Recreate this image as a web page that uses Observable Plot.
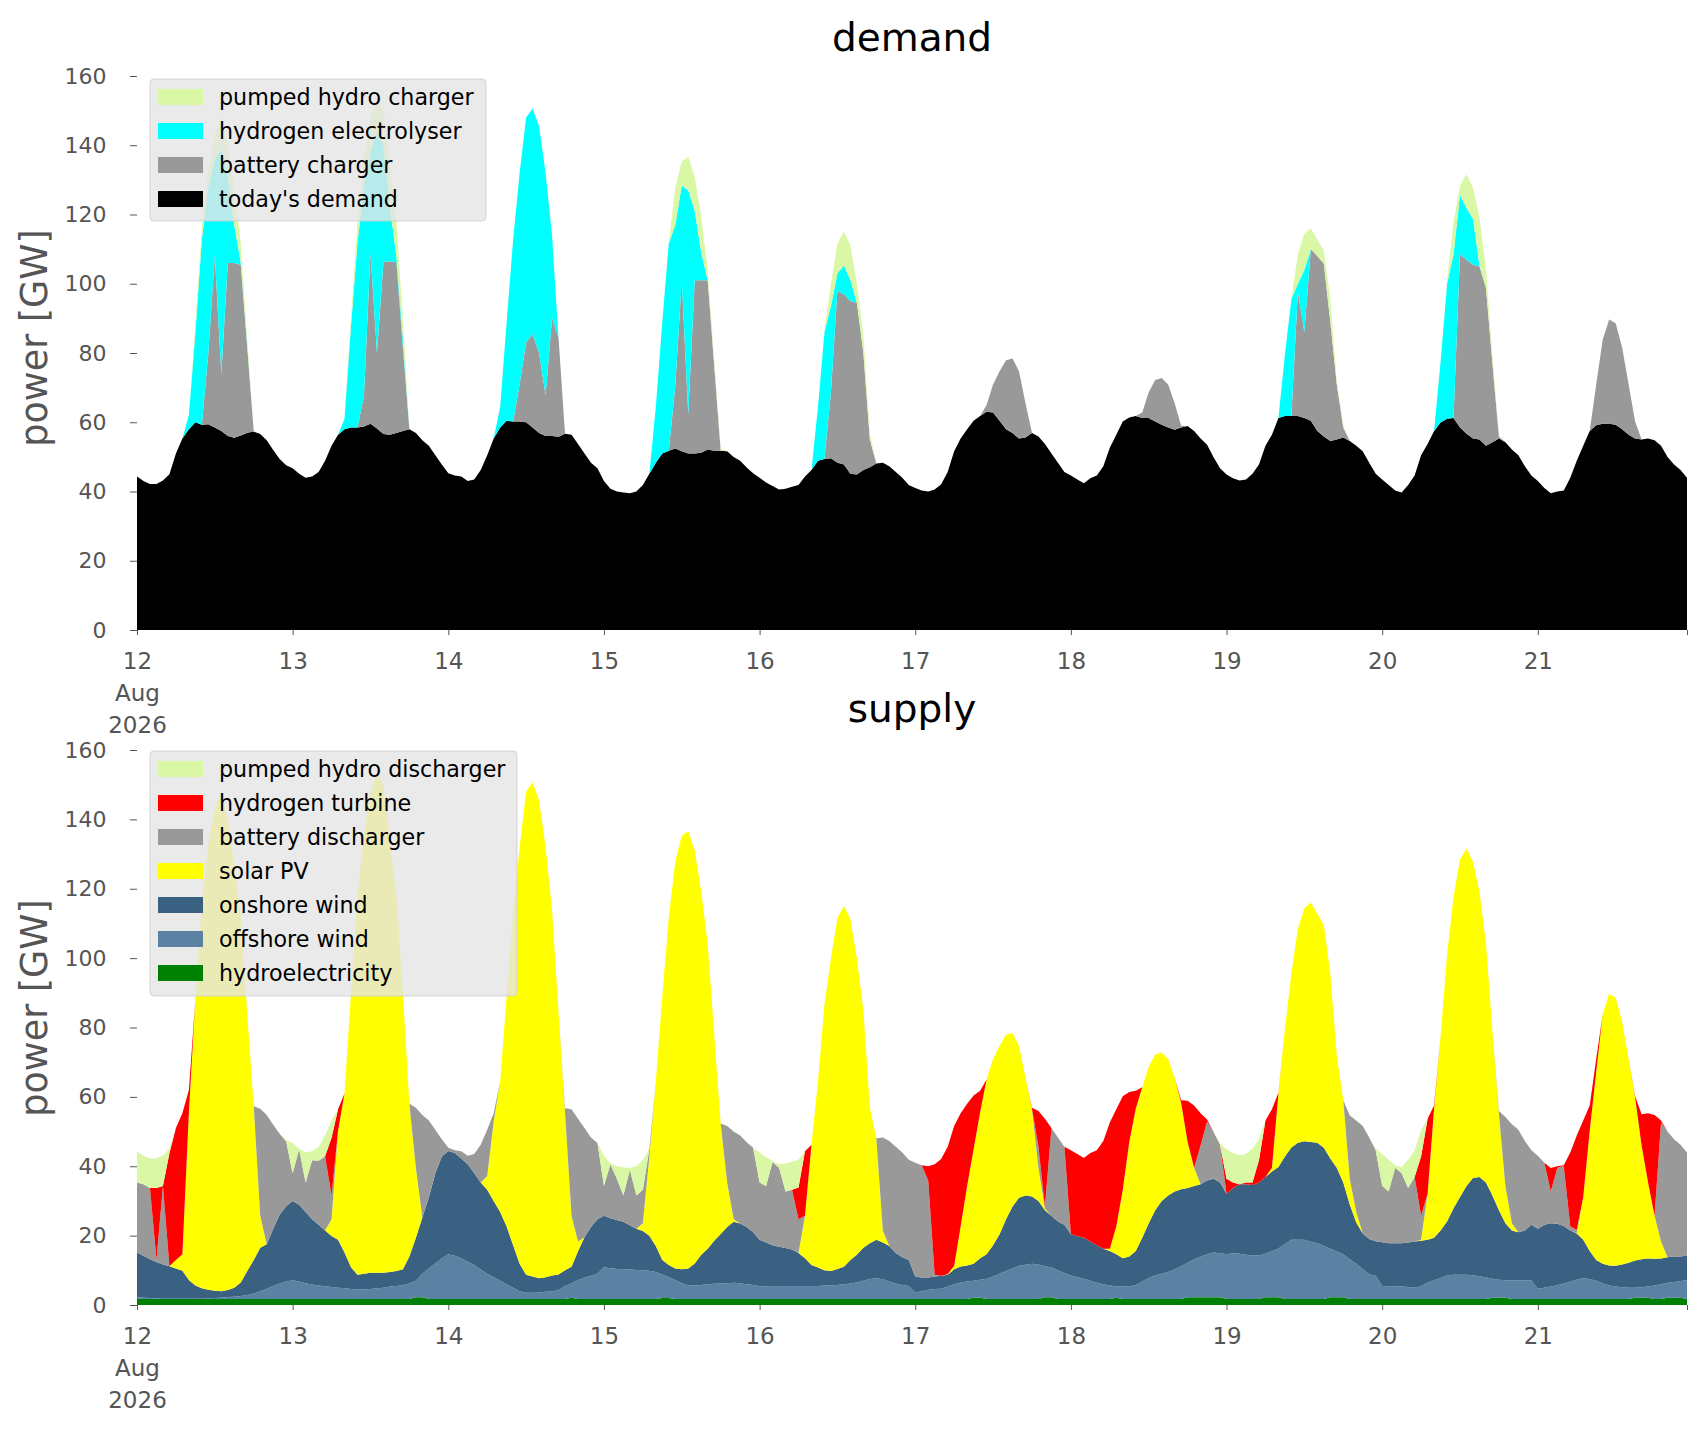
<!DOCTYPE html>
<html><head><meta charset="utf-8">
<script src="https://cdn.jsdelivr.net/npm/d3@7"></script>
<script src="https://cdn.jsdelivr.net/npm/@observablehq/plot@0.6"></script>
<style>
html,body{margin:0;padding:0;background:#fff;overflow:hidden;}
#wrap{position:relative;width:1706px;height:1431px;background:#fff;font-family:"DejaVu Sans",sans-serif;}
#wrap > svg{position:absolute;left:0;}
</style></head><body><div id="wrap"></div>
<script>
// ---------- DEMAND (GW, hourly, 12 Aug 00:00 .. 21 Aug 23:00) ----------
const demand_today = [
44.3,43,42.2,42.2,43.2,45, 51,55.3,58,60,59.3,59.4, 58.5,57.5,56,55.5,56.2,57, 57.3,56.6,54.8,52,49.4,47.6,
46.7,45.1,44,44.3,45.6,48.9, 53.2,56.4,58,58.5,58.5,58.8, 59.6,58.2,56.6,56.4,56.9,57.5, 58,56.9,54.8,53.2,50.5,47.8,
45.3,44.6,44.3,43,43.5,46.2, 50.5,55.3,58.5,60.4,60.2,60.2, 60,58.5,56.9,56,56,55.8, 56.7,56.4,53.7,51,48.3,46.7,
43,40.8,40,39.7,39.5,40, 41.9,45.1,48.3,51,51.8,52.4, 51.6,51,51,51.2,52.1,51.8, 51.8,51.6,50,48.9,46.9,45.3,
44,42.6,41.6,40.6,40.8,41.4, 41.9,44.3,46.2,48.9,49.4,49.6, 48.3,47.8,45.1,44.9,46.2,47, 48.1,48.3,47.3,45.6,44,41.9,
41,40.3,40,40.6,42.1,45.6, 51.6,55.3,58,60.4,61.8,63, 62.8,60.4,58,56.9,55.3,55.6, 56.9,55.9,53.7,51,48.3,45.6,
44.6,43.5,42.4,43.8,44.6,47.3, 52.6,56.4,60.2,61.4,61.8,61.2, 61.2,60.2,59.3,58.5,57.8,58.5, 58.9,57.5,55.3,53.5,49.9,46.7,
44.9,43.8,43.2,43.5,45.1,47.8, 53.2,56.4,61.2,61.8,61.8,61.8, 61.2,60.4,57.5,55.9,54.6,55, 55.6,54.6,53.2,51.6,48.3,45.1,
43.5,41.9,40.3,39.7,41.9,44.6, 50.5,53.7,57.5,59.9,61,61.2, 58.5,56.7,55.3,55,53.2,54.2, 55.3,54.2,52.1,50.5,47.3,44.6,
43,41,39.5,40,40.3,44, 48.9,53.2,57.5,59.1,59.6,59.6, 59.3,58,56.4,55.3,55,55.3, 54.8,53.2,50,47.8,46.2,44
];
const battery_charger = [
0,0,0,0,0,0, 0,0,0,0,0,20.6, 49.5,16.5,50,50.5,49.3,24.6, 0,0,0,0,0,0,
0,0,0,0,0,0, 0,0,0,0,0,8.9, 49.4,21.8,49.7,50.1,49.4,24.1, 0,0,0,0,0,0,
0,0,0,0,0,0, 0,0,0,0,0,10.8, 23,27,23.1,11.7,34.2,28.5, 0,0,0,0,0,0,
0,0,0,0,0,0, 0,0,0,0,0,18.1, 49.4,11.3,50,49.8,48.9,24.7, 0,0,0,0,0,0,
0,0,0,0,0,0, 0,0,0,0,0,19.1, 49.7,49.2,49.9,49.6,33.8,8, 0,0,0,0,0,0,
0,0,0,0,0,0, 0,0,0,0,0,2, 8.1,14.3,19.9,21.5,19.4,9.9, 0,0,0,0,0,0,
0,0,0,0,0,0, 0,0,0,0,0,1.6, 7.5,12,13.5,12.4,7.7,0.5, 0,0,0,0,0,0,
0,0,0,0,0,0, 0,0,0,0,0,35.9, 24.8,49.6,50.5,49.9,34.4,15.9, 2.9,0,0,0,0,0,
0,0,0,0,0,0, 0,0,0,0,0,0, 50,50.2,50.2,50,45.6,22.8, 0.6,0,0,0,0,0,
0,0,0,0,0,0, 0,0,0,11.8,24.2,30.1, 29.3,23.6,14.5,4.9,0,0, 0,0,0,0,0,0
];
const hydrogen_electrolyser = [
0,0,0,0,0,0, 0,0,4,26,53.7,48, 28,65,25,11,0.5,0.4, 0,0,0,0,0,0,
0,0,0,0,0,0, 0,0,3,29.5,53.5,60.3, 29,64,33.7,15.5,1.7,2.4, 0,0,0,0,0,0,
0,0,0,0,0,0, 0,0,5.9,28.6,52.6,61, 65,65.1,65.5,64.3,23.7,0, 0,0,0,0,0,0,
0,0,0,0,0,0, 0,0,16.1,38,59.9,46.5, 27.4,64.7,20,8,0,0, 0,0,0,0,0,0,
0,0,0,0,0,0, 0,0,0,15.5,36.6,24.8, 5,8.3,6,0,0,0, 0,0,0,0,0,0,
0,0,0,0,0,0, 0,0,0,0,0,0, 0,0,0,0,0,0, 0,0,0,0,0,0,
0,0,0,0,0,0, 0,0,0,0,0,0, 0,0,0,0,0,0, 0,0,0,0,0,0,
0,0,0,0,0,0, 0,0,0,17.7,33.8,2.3, 18,0,0,0,0,0, 0,0,0,0,0,0,
0,0,0,0,0,0, 0,0,0,17.4,38.9,47.3, 17.2,15,13.2,0.3,0,0, 0,0,0,0,0,0,
0,0,0,0,0,0, 0,0,0,0,0,0, 0,0,0,0,0,0, 0,0,0,0,0,0
];
const pumped_hydro_charger = [
0,0,0,0,0,0, 0,0,0,2,3,5, 7,9,9,10,6,2, 0,0,0,0,0,0,
0,0,0,0,0,0, 0,0,0,2,6,8, 10,9,10,12,10,6, 0,0,0,0,0,0,
0,0,0,0,0,0, 0,0,0,0,0,0, 0,0,0,0,0,0, 0,0,0,0,0,0,
0,0,0,0,0,0, 0,0,0,0,0,10.8, 6.9,9.6,10,10.2,3,1.5, 0.5,0,0,0,0,0,
0,0,0,0,0,0, 0,0,0,0,0.6,6.4, 8.6,9.7,10.2,5.4,5,2, 0,0,0,0,0,0,
0,0,0,0,0,0, 0,0,0,0,0,0, 0,0,0,0,0,0, 0,0,0,0,0,0,
0,0,0,0,0,0, 0,0,0,0,0,0, 0,0,0,0,0,0, 0,0,0,0,0,0,
0,0,0,0,0,0, 0,0,0,0,0,8.5, 10.4,6,4.8,3.8,6.6,1.1, 0.5,0,0,0,0,0,
0,0,0,0,0,0, 0,0,0,0,1,9.1, 2.7,9.7,9.1,13.9,5.4,2, 0,0,0,0,0,0,
0,0,0,0,0,0, 0,0,0,0,0,0, 0,0,0,0,0,0, 0,0,0,0,0,0
];

// ---------- SUPPLY ----------
const hydroelectricity = [
1.7,1.7,1.7,1.7,1.7,1.7, 1.7,1.7,1.7,1.7,1.7,1.7, 1.7,1.7,1.7,1.7,1.7,1.7, 1.7,1.7,1.7,1.7,1.7,1.7,
1.7,1.7,1.7,1.7,1.7,1.7, 1.7,1.7,1.7,1.7,1.7,1.7, 1.7,1.7,1.7,1.7,1.7,1.7, 1.7,2.2,2.2,1.7,1.7,1.7,
1.7,1.7,1.7,1.7,1.7,1.7, 1.7,1.7,1.7,1.7,1.7,1.7, 1.7,1.7,1.7,1.7,1.7,1.7, 1.7,2.1,1.7,1.7,1.7,1.7,
1.7,1.7,1.7,1.7,1.7,1.7, 1.7,1.7,1.7,2.0,2.0,1.7, 1.7,1.7,1.7,1.7,1.7,1.7, 1.7,1.7,1.7,1.7,1.7,1.7,
1.7,1.7,1.7,1.7,1.7,1.7, 1.7,1.7,1.7,1.7,1.7,1.7, 1.7,1.7,1.7,1.7,1.7,1.7, 1.7,1.7,1.7,1.7,1.7,1.7,
1.7,1.7,1.7,1.7,1.7,1.7, 1.7,1.7,1.7,2.1,2.1,1.7, 1.7,1.7,1.7,1.7,1.7,1.7, 1.7,1.7,2.2,2.2,1.7,1.7,
1.7,1.7,1.7,1.7,1.7,1.7, 1.7,2.1,1.7,1.7,1.7,1.7, 1.7,1.7,1.7,1.7,1.7,1.7, 2.2,2.2,2.2,2.2,2.2,2.2,
1.7,1.7,1.7,1.7,1.7,1.7, 2.2,2.2,2.2,1.7,1.7,1.7, 1.7,1.7,1.7,1.7,2.2,2.2, 2.2,1.7,1.7,1.7,1.7,1.7,
1.7,1.7,1.7,1.7,1.7,1.7, 1.7,1.7,1.7,1.7,1.7,1.7, 1.7,1.7,1.7,1.7,1.7,2.1, 2.1,2.1,1.7,1.7,1.7,1.7,
1.7,1.7,1.7,1.7,1.7,1.7, 1.7,1.7,1.7,1.7,1.7,1.7, 1.7,1.7,1.7,2.1,2.1,2.1, 1.7,1.7,2.1,2.1,2.1,1.7
];
const offshore_wind = [
0.6,0.4,0.3,0.2,0.1,0.1, 0.1,0.1,0.1,0.1,0.1,0.2, 0.3,0.4,0.6,0.7,0.9,1.2, 1.6,2.3,3.0,3.8,4.5,5.1,
5.4,5.1,4.6,4.2,3.9,3.7, 3.5,3.3,3.1,2.9,2.8,2.8, 2.9,3.1,3.3,3.6,3.8,4.0, 4.5,4.8,6.8,8.8,10.3,11.8,
12.9,12.5,11.8,10.8,9.8,8.5, 7.3,6.3,5.3,4.3,3.3,2.3, 1.8,1.8,1.9,2.1,2.2,2.6, 3.8,4.2,5.5,6.2,6.7,7.3,
9.2,8.9,8.7,8.6,8.5,8.4, 8.3,8.2,7.8,6.8,6.0,5.5, 4.6,4.0,3.9,4.1,4.3,4.4, 4.5,4.6,4.7,4.6,4.3,4.1,
3.7,3.7,3.8,3.8,3.8,3.8, 3.8,3.8,3.8,3.8,3.9,4.0, 4.1,4.3,4.5,4.8,5.3,5.8, 6.0,5.7,5.1,4.5,4.1,3.8,
1.9,2.3,2.7,2.9,3.0,3.6, 4.3,4.8,5.1,4.9,5.2,5.9, 6.5,7.3,8.1,8.9,9.6,9.9, 10.2,10.0,9.0,8.6,8.3,7.5,
6.8,6.3,5.9,5.3,4.7,4.3, 3.9,3.3,3.6,3.6,4.1,5.1, 6.1,6.8,7.3,7.8,8.6,9.5, 10.0,11.0,11.8,12.4,12.9,12.7,
12.9,13.2,13.1,12.8,12.6,12.6, 12.6,13.3,14.1,15.8,17.1,17.1, 17.1,16.5,16.1,15.3,14.0,13.2, 12.4,11.5,10.2,8.6,7.2,6.7,
3.8,3.7,3.6,3.6,3.5,3.3, 3.7,4.8,5.4,6.1,6.8,7.0, 7.0,7.0,6.9,6.6,6.2,5.5, 5.2,5.0,5.4,5.4,5.4,5.4,
3.0,3.3,3.6,4.0,4.5,5.0, 5.6,6.0,5.8,5.3,4.5,3.9, 3.6,3.4,3.3,2.9,3.0,3.2, 3.9,4.3,4.3,4.5,4.8,5.4
];
const onshore_wind = [
12.8,12.1,11.2,10.5,9.9,9.4, 8.7,8.1,5.4,3.8,3.0,2.5, 2.1,1.9,2.0,2.6,3.9,6.9, 9.7,12.5,12.8,16.5,19.8,21.7,
22.9,22.1,20.5,18.8,17.5,16.1, 14.7,13.8,10.3,6.3,4.2,4.5, 4.7,4.5,4.3,4.2,4.3,4.6, 7.8,12.4,16.2,20.5,26,29.3,
29.8,29.6,28.7,28.1,26.5,25.1, 24.2,22,19.8,16.6,12.2,7.9, 5.2,4.7,4.1,4.2,4.6,4.5, 4.5,4.7,8.3,11.6,14.1,15.7,
14.8,14.4,14.1,13.7,12.8,11.9, 11.3,10.1,7.5,4.2,3.5,3.3, 4.0,4.8,6.4,8.7,10.2,12.4, 14.3,16.2,17.6,17.2,16.5,15.2,
13.4,12.6,11.7,11.3,10.9,10.5, 9.5,8,6,5.3,4.4,4.1, 4.6,5,6.8,8,9.5,10.3, 11.1,10.6,10.2,8.8,8,7.5,
4.6,3.9,3.5,3.6,3.7,3.4, 4.3,4.6,4.6,4.9,6.2,7, 9,11.4,14.9,17.8,19.6,20, 19.4,18.3,16.1,14.9,14.1,13.9,
11.9,11.9,11.8,11.3,10.8,10.2, 10,9.2,8.2,8.7,9.8,12.6, 15.8,18.8,21,22.1,22.4,22.2, 21.5,21.1,20.8,21.3,21.3,20.4,
17.5,18.8,20,20.3,20.3,21, 22.1,23,23.5,25.3,26.6,28, 28.4,28.8,29,28.3,26,24.2, 20.7,15.8,11.9,10.3,10.1,10,
12.6,12.4,12.5,12.5,12.8,13.3, 13.1,12.3,12.3,13.7,15.6,19.2, 22.4,25.6,28,28.6,27.4,24, 20,16.5,14.4,13.9,14.4,16,
17.3,18.1,18.3,17.7,16.6,14.8, 13.3,11.1,8.1,6,5.7,5.8, 6,6.6,7.2,7.8,8.1,8.1, 7.7,7.4,7.4,7.4,7.1,7.2
];
const solar_pv = [
0,0,0,0,0,0, 2.5,4.7,48.3,82.4,111.2,128.6, 138.9,144,135.7,122,105.5,74.2, 44.3,9.2,0,0,0,0,
0,0,0,0,0,0, 4.8,31.4,45.9,79.1,109.3,127, 138.7,143.7,140.7,124.5,108.2,79.7, 44,20.2,0,0,0,0,
0,0,0,0,0,0, 4,23,37.6,66.4,95.6,120.1, 139.3,142.4,137.8,124,105.4,75.5, 45.5,14.7,2.8,0,0,0,
0,0,0,0,0,0, 2.3,22.8,47.4,76,100.2,117.3, 125,126.1,119,104.7,87.8,59.5, 31.8,12.8,0.7,0,0,0,
0,0,0,0,0,0, 0,12.2,34.7,53.6,76.6,90.1, 101.2,104,98.2,85.4,68.5,39.2, 29.3,3.5,0,0,0,0,
0,0,0,0,0,0.2, 1,11.5,22.9,33,42,50.4, 53.7,54.3,53.2,50,43.8,33.9, 25.3,9.6,0.5,0,0,0,
0,0,0,0,0,0, 0.6,8,19.7,33,41,43.4, 45.1,44.9,42.8,39.3,32.8,24.8, 13.3,5.3,0,0,0,0,
0,0,0,0,0,0, 0,1.1,21.1,36.7,50.2,61.7, 67.2,69,66,64.3,53.4,32.4, 23.7,7.4,3,0,0,0,
0,0,0,0,0,0, 0.3,13.3,37.2,55.8,76.8,89.7, 97.3,97.3,91.2,82.3,68.9,47.4, 27.7,10.7,2.1,0,0,0,
0,0,0,0,0,0, 0.1,12.3,34.6,54.2,71.9,78.3, 77.3,69.9,58.7,47,32.8,21.9, 12.4,4.9,0,0,0,0
];
const battery_discharger = [
20.2,20.6,20.5,0.6,22.6,0, 0,0,0,0,0,0, 0,0,0,0,0,0, 0,30.9,37.3,30,23.4,18.6,
8,16,8.5,17,18.5,21.4, 6.9,0,0,0,0,0, 0,0,0,0,0,0, 0,17.3,29.6,22.2,12.5,5,
0.9,0.8,2.1,2.4,5.5,10.9, 13.3,2.3,0,0,0,0, 0,0,0,0,0,0, 1.2,30.7,35.4,31.5,25.8,22,
8.6,15.6,11.9,7.6,16,9.6, 9.6,2.1,0,0,0,0, 0,0,0,0,0,0, 0,16.3,25.3,25.4,24.4,24.3,
16.5,16.3,24,22.8,16.3,17.2, 9.7,0,0,0,0,0, 0,0,0,0,0,0, 0,26.8,30.3,30.6,30.2,28.9,
32.8,32.4,28,0.5,0,0, 0,0,0,0,0,0, 0,0,0,0,0,0, 0,6,0.5,25.3,24.2,22.5,
0,0,0,0,0,0, 0,0,0,0,0,0, 0,0,0,0,0,0, 0,0,11.2,17,13.5,10.9,
0,0,0,0,0,0, 0,0,0,0,0,0, 0,0,0,0,0,0, 0,18.2,26.4,31,29.3,26.2,
16.2,14.9,21.8,20.2,15.7,18.6, 6.9,0,0,0,0,0, 0,0,0,0,0,0, 0.9,19.9,28.5,29.5,25.8,21.5,
21,17.9,9.1,16.2,17.3,1.1, 1,0,0,0,0,0, 0,0,0,0,0,0, 0,34.4,36.2,33.8,32.2,29.7
];
const hydrogen_turbine = [
0,0,0,20.7,0,32.6, 38,40.7,6.5,0,0,0, 0,0,0,0,0,0, 0,0,0,0,0,0,
0,0,0,0,0,0, 16.6,6.2,0,0,0,0, 0,0,0,0,0,0, 0,0,0,0,0,0,
0,0,0,0,0,0, 0,0,0,0,0,0, 0,0,0,0,0,0, 0,0,0,0,0,0,
0,0,0,0,0,0, 0,0,0,0,0,0, 0,0,0,0,0,0, 0,0,0,0,0,0,
0,0,0,0,0,0, 9.2,18.6,0,0,0,0, 0,0,0,0,0,0, 0,0,0,0,0,0,
0,0,4.1,31.9,33.7,36.7, 40.3,32.7,23.7,15.5,6.3,0, 0,0,0,0,0,0, 0.3,10.3,25.4,0,0,0,
24.2,23.6,23,25.5,27.4,31.1, 36.4,33.8,27,14.4,5.2,0, 0,0,0,0,0,0.8, 11.9,17.9,9.3,0.6,0,0,
4.3,1.6,0,0.5,0.7,6.4, 16.3,16.8,0.3,0,0,0, 0,0,0,0,0,0, 0,0,0,0,0,0,
0,0,0,0,0,0, 17.1,21.6,0.9,0,0,0, 0,0,0,0,0,0, 0,0,0,0,0,0,
0,0,6.8,0.4,0.2,21.4, 27.2,22.1,7.3,3.7,0,0, 0,0,0,0.4,9,20, 29.1,0.5,0,0,0,0
];
const pumped_hydro_discharger = [
9,8.2,8.5,8.5,8.9,1.2, 0,0,0,0,0,0, 0,0,0,0,0,0, 0,0,0,0,0,0.5,
8.7,0.2,8.7,2.6,4,6, 5,0,0,0,0,0, 0,0,0,0,0,0, 0,0,0,0,0,0,
0,0,0,0,0,0, 0,0,0,0,0,0, 0,0,0,0,0,0, 0,0,0,0,0,0,
8.7,0.2,3.6,8.1,0.5,8.4, 8.7,0.2,0,0,0,0, 0,0,0,0,0,0, 0,0,0,0,0,0,
8.7,8.3,0.4,1,8.1,8.2, 8,0,0,0,0,0, 0,0,0,0,0,0, 0,0,0,0,0,0,
0,0,0,0,0,0, 0,0,0,0,0,0, 0,0,0,0,0,0, 0,0,0,0,0,0,
0,0,0,0,0,0, 0,0,0,0,0,0, 0,0,0,0,0,0, 0,0,0,0,0,0.5,
8.5,8.5,8.4,8.2,9.8,6.1, 0,0,0,0,0,0, 0,0,0,0,0,0, 0,0,0,0,0,0.5,
9.2,9.2,0.7,1.7,8.2,7.7, 7.7,0,0,0,0,0, 0,0,0,0,0,0, 0,0,0,0,0,0,
0,0,0,0,0,0, 0,0,0,0,0,0, 0,0,0,0,0,0, 0,0,0,0,0,0
];

// series (bottom -> top) with colours
const demandSeries = [
  {name: "today's demand", color: "#000000", values: demand_today},
  {name: "battery charger", color: "#999999", values: battery_charger},
  {name: "hydrogen electrolyser", color: "#00FFFF", values: hydrogen_electrolyser},
  {name: "pumped hydro charger", color: "#DAF7A6", values: pumped_hydro_charger}
];
const supplySeries = [
  {name: "hydroelectricity", color: "#008000", values: hydroelectricity},
  {name: "offshore wind", color: "#5B82A3", values: offshore_wind},
  {name: "onshore wind", color: "#3B6182", values: onshore_wind},
  {name: "solar PV", color: "#FFFF00", values: solar_pv},
  {name: "battery discharger", color: "#999999", values: battery_discharger},
  {name: "hydrogen turbine", color: "#FF0000", values: hydrogen_turbine},
  {name: "pumped hydro discharger", color: "#DAF7A6", values: pumped_hydro_discharger}
];
const yTicks = [0,20,40,60,80,100,120,140,160];
const tickDays = [12,13,14,15,16,17,18,19,20,21];

const T0 = Date.UTC(2026, 7, 12);
const times = d3.range(240).map(i => new Date(T0 + i * 3600e3));
const tEnd = times[239];
const xTicks = [...tickDays.map(d => new Date(Date.UTC(2026, 7, d))), tEnd];
const fmt = d => (+d === +tEnd) ? "" : (d.getUTCDate() === 12 ? "12\nAug\n2026" : String(d.getUTCDate()));

const wrap = document.getElementById("wrap");

function chart(series, top, height, marginTop, marginBottom) {
  const rows = series.flatMap(s => s.values.map((v, i) => ({time: times[i], series: s.name, value: v})));
  const names = series.map(s => s.name);
  const svg = Plot.plot({
    width: 1706, height, marginTop, marginBottom, marginLeft: 137, marginRight: 19,
    style: {background: "transparent", overflow: "visible", fontFamily: "DejaVu Sans, sans-serif"},
    x: {type: "utc", domain: [times[0], tEnd]},
    y: {domain: [0, 160]},
    color: {domain: names, range: series.map(s => s.color)},
    marks: [
      Plot.areaY(rows, {x: "time", y: "value", z: "series", fill: "series", order: names, curve: "linear"}),
      Plot.axisY({ticks: yTicks, tickSize: 7, tickPadding: 24, fontSize: 22, color: "#555555", label: null}),
      Plot.axisX({ticks: xTicks, tickFormat: fmt, tickSize: 5, tickPadding: 10, fontSize: 23, lineHeight: 1.41, color: "#555555", label: null})
    ]
  });
  svg.style.top = top + "px";
  wrap.appendChild(svg);
}
chart(demandSeries, 0, 760, 76, 130);
chart(supplySeries, 700, 731, 50, 126);

// overlay: titles, axis labels, legends
const ov = d3.create("svg").attr("width", 1706).attr("height", 1431)
  .style("top", "0px").style("font-family", "DejaVu Sans, sans-serif");
ov.append("text").attr("x", 912).attr("y", 51).attr("text-anchor", "middle").attr("font-size", 39).attr("fill", "#000").text("demand");
ov.append("text").attr("x", 912).attr("y", 722).attr("text-anchor", "middle").attr("font-size", 39).attr("fill", "#000").text("supply");
[338, 1008].forEach(cy => {
  ov.append("text").attr("transform", `translate(47,${cy}) rotate(-90)`).attr("text-anchor", "middle")
    .attr("font-size", 36.5).attr("fill", "#555555").text("power [GW]");
});
function legend(x, y, w, h, items) {
  const g = ov.append("g");
  g.append("rect").attr("x", x).attr("y", y).attr("width", w).attr("height", h).attr("rx", 4)
    .attr("fill", "#e5e5e5").attr("fill-opacity", 0.8).attr("stroke", "#cccccc").attr("stroke-opacity", 0.8);
  items.forEach((it, i) => {
    g.append("rect").attr("x", x + 8).attr("y", y + 10 + 34 * i).attr("width", 45).attr("height", 16).attr("fill", it.color);
    g.append("text").attr("x", x + 69).attr("y", y + 26 + 34 * i).attr("font-size", 22.2).attr("fill", "#000").text(it.name);
  });
}
legend(150, 79, 336, 142, demandSeries.slice().reverse());
legend(150, 751, 367, 245, supplySeries.slice().reverse());
wrap.appendChild(ov.node());
</script></body></html>
